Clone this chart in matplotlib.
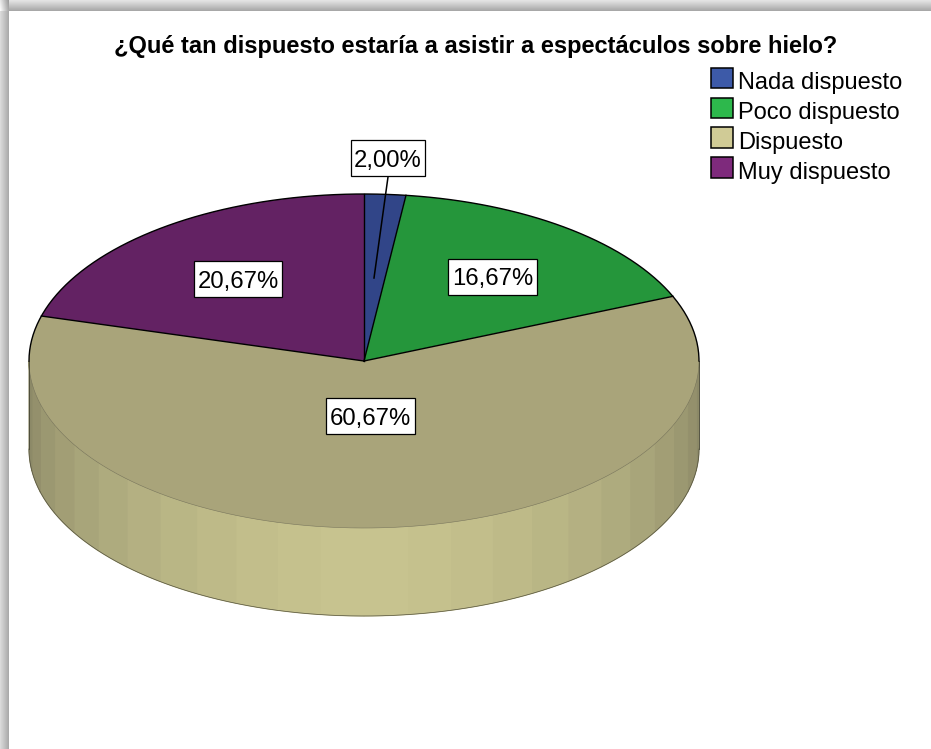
import numpy as np
import matplotlib.pyplot as plt
from matplotlib.patches import Patch, Rectangle

W, H = 931, 749
CX, CY = 364, 361   # centro de la tarta en pixeles
RX, RY = 335, 167
DEPTH = 88

title = '¿Qué tan dispuesto estaría a asistir a espectáculos sobre hielo?'
categories = ['Nada dispuesto', 'Poco dispuesto', 'Dispuesto', 'Muy dispuesto']
values = [2.00, 16.67, 60.67, 20.67]
top_colors = ['#314588', '#25963B', '#A9A47A', '#632263']
legend_colors = ['#3D5AA8', '#2DB84C', '#D0CB96', '#7E2A7C']

plt.rcParams['font.family'] = ['Liberation Sans', 'DejaVu Sans']

fig = plt.figure(figsize=(W / 100, H / 100), dpi=100)

# Sombra gris del marco, arriba y a la izquierda
bg = fig.add_axes([0, 0, 1, 1])
img = np.full((H, W), 255.0)
img[:11, :] = np.linspace(228, 168, 11)[:, None]
img[:, :9] = np.minimum(img[:, :9], np.linspace(218, 170, 9)[None, :])
img[:11, :9] = np.linspace(250, 170, 9)[None, :] * np.linspace(0.92, 1, 11)[:, None]
bg.imshow(img, cmap='gray', vmin=0, vmax=255, aspect='auto')
bg.axis('off')

# Un radio vale RX pixeles en x y RY pixeles en y
ax = fig.add_axes([0, 0, 1, 1])
ax.patch.set_alpha(0)
wedges, _ = ax.pie(values, colors=top_colors, startangle=90, counterclock=False,
                   radius=1, wedgeprops={'linewidth': 0})
ax.set_aspect('auto')
ax.set_xlim(-CX / RX, (W - CX) / RX)
ax.set_ylim((CY - H) / RY, CY / RY)
ax.axis('off')
d = DEPTH / RY


def px(x, y):
    return (x - CX) / RX, (CY - y) / RY


def shade(t):
    # t = 0 en el frente, 1 en el borde
    c0 = np.array([200, 196, 143])
    c1 = np.array([136, 133, 100])
    return (c0 + (c1 - c0) * t ** 1.5) / 255


# Pared lateral en facetas de 7.5 grados
edges = np.arange(90, 270.1, 7.5)
for a0, a1 in zip(edges[:-1], edges[1:]):
    t = np.radians(np.linspace(a0, a1, 12))
    x, y = np.sin(t), np.cos(t)
    mid = abs((a0 + a1) / 2 - 180) / 90
    ax.fill(np.r_[x, x[::-1]], np.r_[y, y[::-1] - d], color=shade(mid), lw=0.8, zorder=0.5)

# Contornos
t = np.radians(np.linspace(90, 270, 200))
ax.plot(np.sin(t), np.cos(t), color='#77745a', lw=0.4, zorder=3)
ax.plot(np.sin(t), np.cos(t) - d, color='#55533f', lw=0.5, zorder=3)
for s in (-1, 1):
    ax.plot([s, s], [0, -d], color='#444433', lw=0.6, zorder=3)
t = np.radians(np.linspace(-90, 90, 200))
ax.plot(np.sin(t), np.cos(t), color='black', lw=1.0, zorder=3)
for a in np.cumsum([0] + values[:-1]) * 3.6:
    r = np.radians(a)
    ax.plot([0, np.sin(r)], [0, np.cos(r)], color='black', lw=1.0, zorder=3)

# Etiquetas de porcentaje
label_pos = [(388, 157.5), (492.5, 276.5), (370.5, 416), (238, 279)]
ax.plot(*zip(px(388, 177), px(374, 278)), color='black', lw=1.1, zorder=4)
renderer = fig.canvas.get_renderer()
for v, (x, y) in zip(values, label_pos):
    s = f'{v:.2f}%'.replace('.', ',')
    txt = ax.text(*px(x, y + 9), s, fontsize=17.2, ha='center', va='baseline', zorder=7)
    w = txt.get_window_extent(renderer).width + 7
    h = 36
    x0, y0 = px(x - w / 2, y + h / 2)
    ax.add_patch(Rectangle(px(x - w / 2 + 1, y + h / 2 + 1), w / RX, h / RY, fc='#444444',
                           ec='none', zorder=5))
    ax.add_patch(Rectangle((x0, y0), w / RX, h / RY, fc='white', ec='black', lw=0.9, zorder=6))

fig.text(476 / W, 1 - 47 / H, title, fontsize=17.05, fontweight='bold', ha='center', va='center')

handles = [Patch(facecolor=c, edgecolor='black', linewidth=1.1) for c in legend_colors]
leg = ax.legend(handles, categories, loc='upper left', bbox_to_anchor=(711 / W, 1 - 71 / H),
                frameon=False, fontsize=17, borderpad=0, borderaxespad=0, handlelength=0.95,
                handleheight=0.95, handletextpad=0.2, labelspacing=0.28)
# Los cuadros quedan un poco mas arriba que el texto
for p in leg.get_patches():
    p.set_y(p.get_y() + 2.4)

fig.savefig('out.png', dpi=100)
